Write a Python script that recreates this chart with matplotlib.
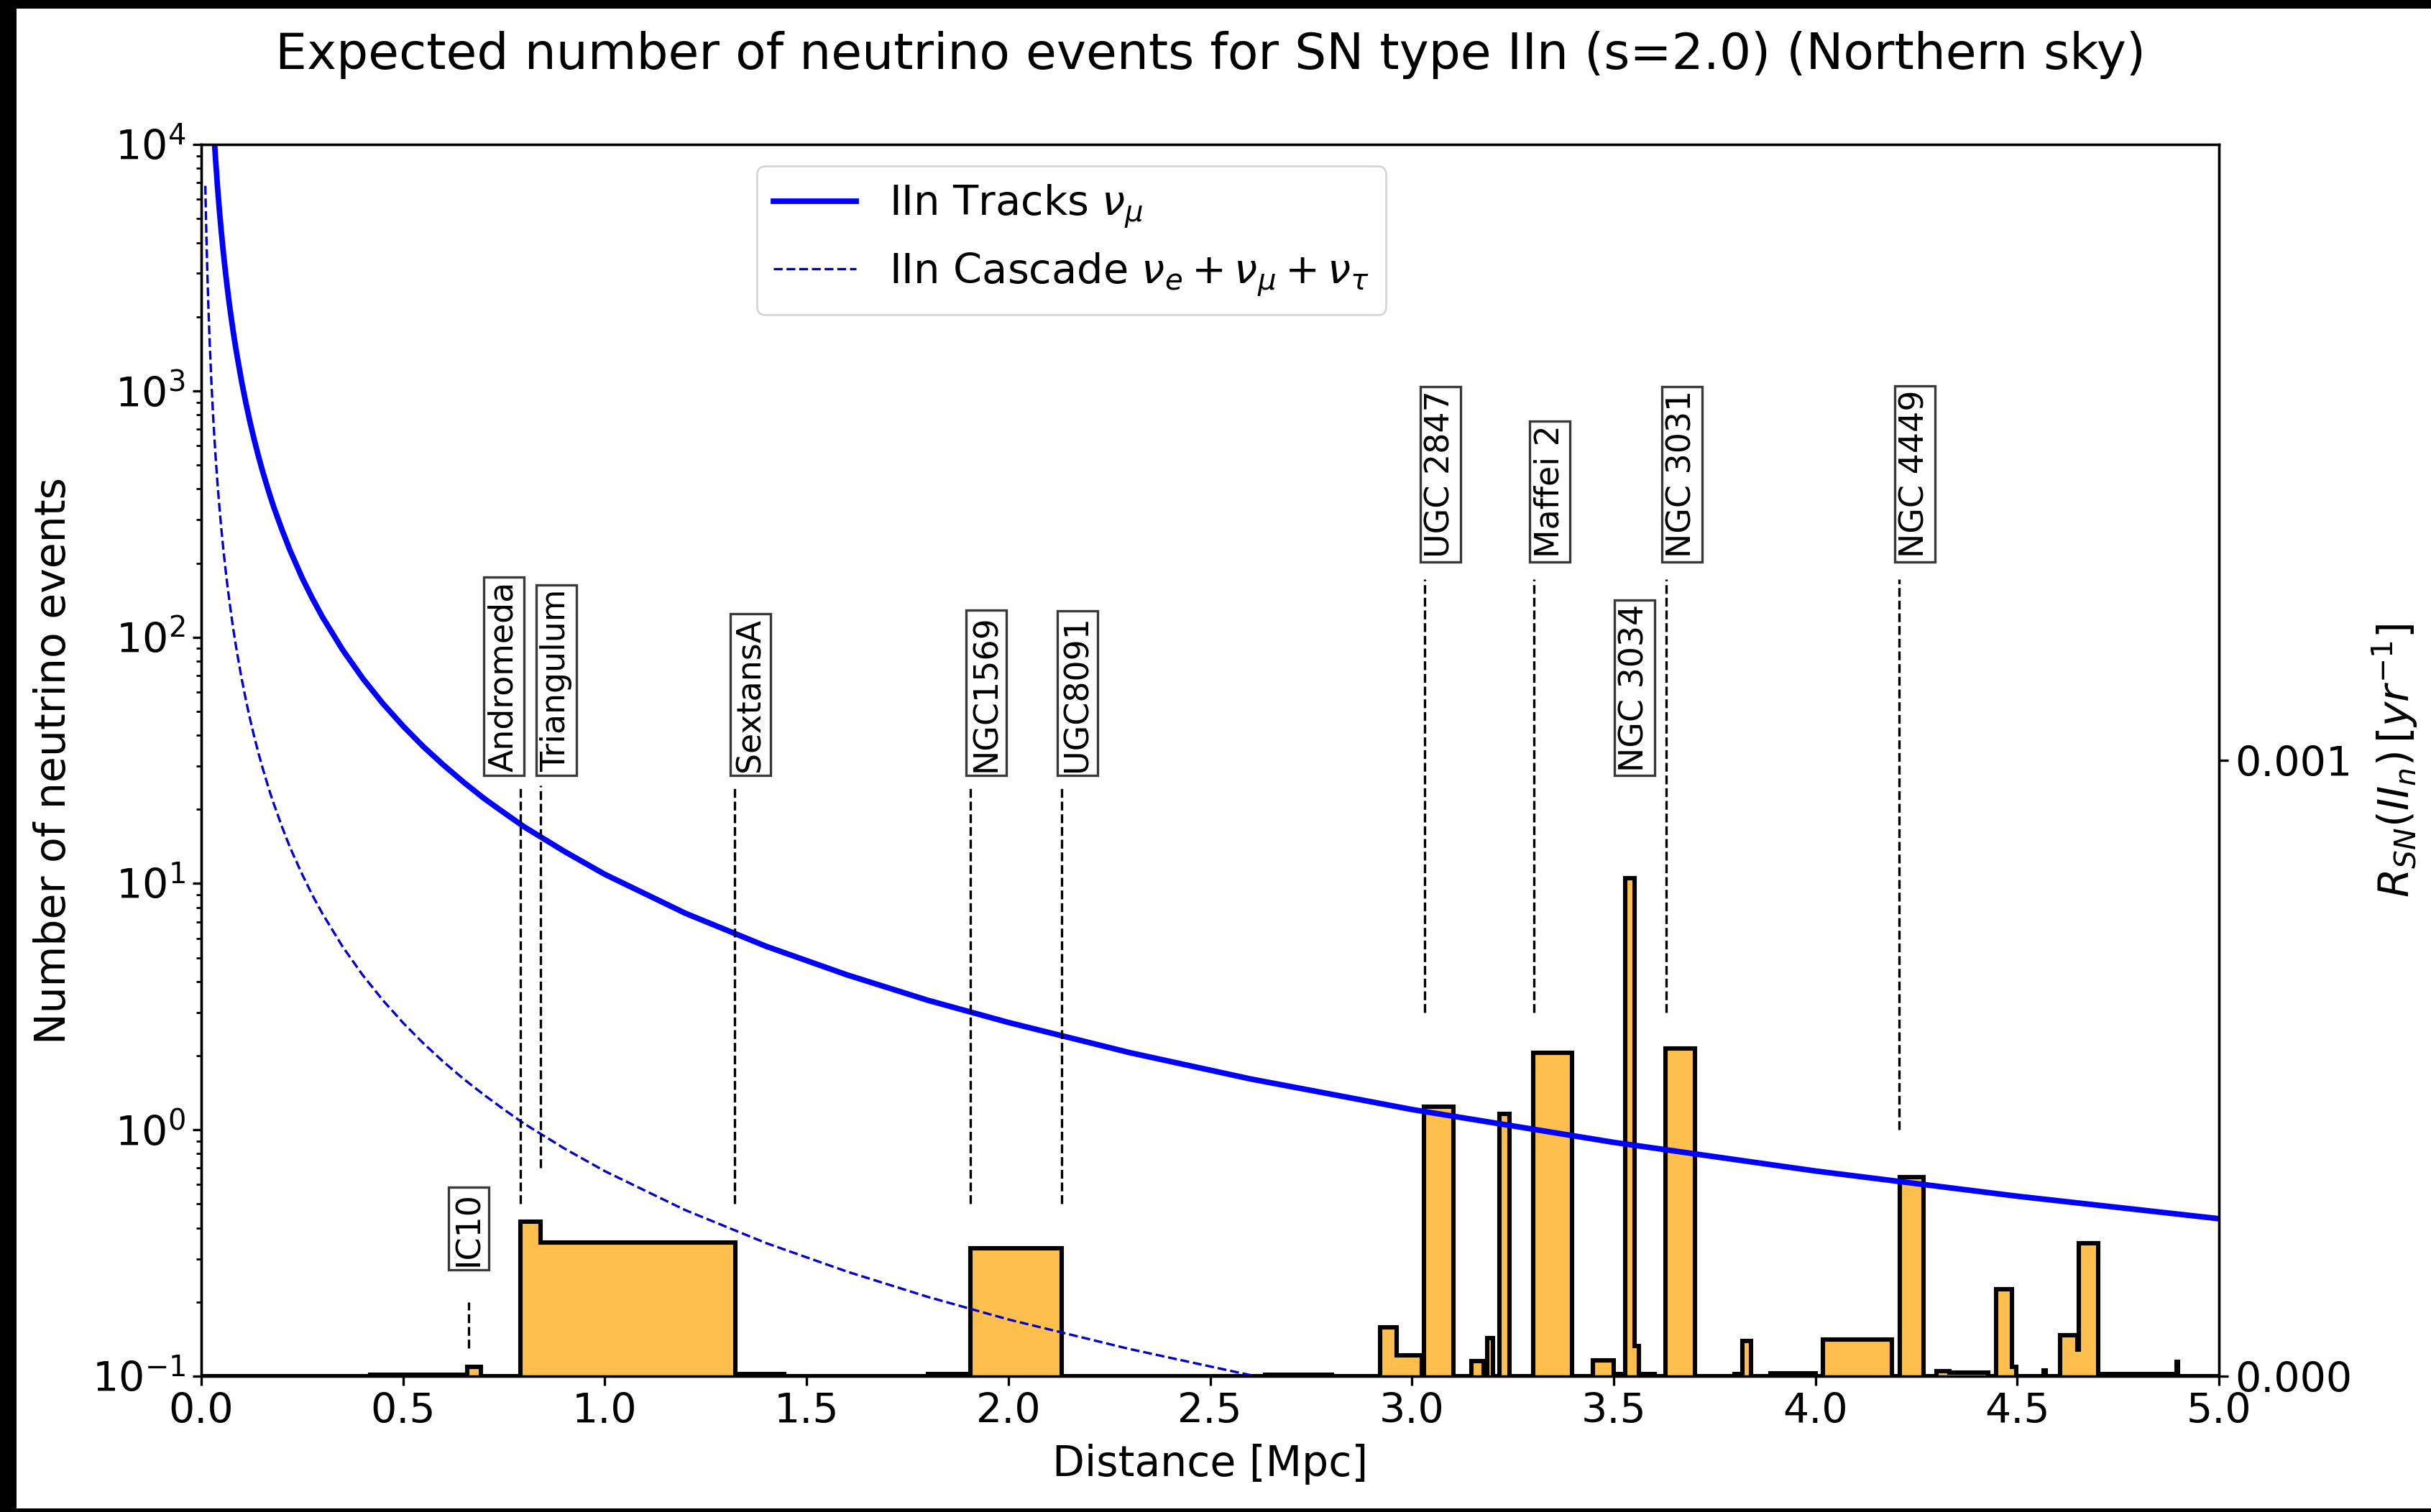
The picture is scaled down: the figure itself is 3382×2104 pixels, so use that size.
import matplotlib
matplotlib.use("Agg")
import matplotlib.pyplot as plt
from matplotlib.patches import Rectangle
from matplotlib.ticker import MultipleLocator, FormatStrFormatter

# expected number of events vs distance
dist_curve = [0.01, 0.0125, 0.015, 0.0175, 0.02, 0.025, 0.03, 0.035, 0.04, 0.045,
              0.05, 0.055, 0.06, 0.065, 0.07, 0.075, 0.08, 0.085, 0.09, 0.10,
              0.11, 0.12, 0.13, 0.14, 0.15, 0.16, 0.17, 0.18, 0.20, 0.22,
              0.25, 0.275, 0.30, 0.35, 0.40, 0.45, 0.50, 0.55, 0.60, 0.65,
              0.70, 0.75, 0.80, 0.90, 1.00, 1.20, 1.40, 1.60, 1.80, 2.00,
              2.30, 2.60, 3.00, 3.50, 4.00, 4.50, 5.00]
tracks = [109000, 69800, 48400, 35600, 27300, 17400, 12100, 8900, 6810, 5380,
          4360, 3600, 3030, 2580, 2220, 1940, 1700, 1510, 1350, 1090,
          901, 757, 645, 556, 484, 426, 377, 336, 273, 225,
          174, 144, 121, 89.0, 68.1, 53.8, 43.6, 36.0, 30.3, 25.8,
          22.2, 19.4, 17.0, 13.5, 10.9, 7.57, 5.56, 4.26, 3.36, 2.73,
          2.06, 1.61, 1.21, 0.890, 0.681, 0.538, 0.436]
cascade = [6800, 4350, 3020, 2220, 1700, 1090, 756, 555, 425, 336,
           272, 225, 189, 161, 139, 121, 106, 94.1, 84.0, 68.0,
           56.2, 47.2, 40.2, 34.7, 30.2, 26.6, 23.5, 21.0, 17.0, 14.0,
           10.9, 8.99, 7.56, 5.55, 4.25, 3.36, 2.72, 2.25, 1.89, 1.61,
           1.39, 1.21, 1.06, 0.840, 0.680, 0.472, 0.347, 0.266, 0.210, 0.170,
           0.129, 0.101, 0.0756, 0.0555, 0.0425, 0.0336, 0.0272]

# SN IIn rate per distance bin [1/yr]
rate_edges = [0.0, 0.419, 0.652, 0.659, 0.693, 0.790, 0.840, 1.324, 1.444, 1.800,
              1.905, 2.132, 2.636, 2.801, 2.921, 2.963, 3.025, 3.029, 3.102, 3.148,
              3.178, 3.187, 3.200, 3.216, 3.242, 3.301, 3.397, 3.449, 3.500, 3.528,
              3.551, 3.562, 3.602, 3.629, 3.702, 3.800, 3.818, 3.841, 3.889, 4.000,
              4.019, 4.189, 4.209, 4.268, 4.300, 4.331, 4.428, 4.447, 4.487, 4.497,
              4.566, 4.571, 4.606, 4.649, 4.653, 4.700, 4.895, 4.899, 5.0]
rates = [0, 2.5e-6, 0, 1.55e-5, 0, 2.51e-4, 2.17e-4, 3.9e-6, 0, 4.0e-6,
         2.08e-4, 0, 2.5e-6, 0, 8.0e-5, 3.4e-5, 0, 4.38e-4, 0, 2.5e-5,
         0, 6.2e-5, 0, 4.26e-4, 0, 5.25e-4, 0, 2.6e-5, 3.5e-6, 8.09e-4,
         4.9e-5, 3.5e-6, 0, 5.32e-4, 0, 3.0e-6, 5.7e-5, 0, 5.0e-6, 0,
         5.96e-5, 0, 3.23e-4, 0, 8.4e-6, 5.6e-6, 0, 1.415e-4, 1.5e-5, 0,
         9.5e-6, 0, 6.7e-5, 4.3e-5, 2.16e-4, 4.0e-6, 2.3e-5, 0]

# nearby galaxies
galaxies = ["IC10", "Andromeda", "Triangulum", "SextansA", "NGC1569", "UGC8091",
            "UGC 2847", "Maffei 2", "NGC 3034", "NGC 3031", "NGC 4449"]
gal_dist = [0.663, 0.790, 0.840, 1.321, 1.905, 2.132,
            3.031, 3.302, 3.512, 3.630, 4.207]
label_y = [0.28, 28.5, 28.5, 28.5, 28.5, 28.5, 210, 210, 28.5, 210, 210]
line_top = [0.2, 25, 25, 25, 25, 25, 172, 172, None, 172, 172]
line_bottom = [0.13, 0.5, 0.7, 0.5, 0.5, 0.5, 3.0, 3.0, None, 3.0, 1.0]
label_ha = ["center", "right", "left", "left", "left", "left",
            "left", "left", "left", "left", "left"]

plt.rcParams["font.family"] = "DejaVu Sans"
plt.rcParams["axes.linewidth"] = 1.2
plt.rcParams["xtick.major.size"] = 4.5
plt.rcParams["ytick.major.size"] = 4.5
plt.rcParams["xtick.major.width"] = 1.2
plt.rcParams["ytick.major.width"] = 1.2
plt.rcParams["ytick.minor.size"] = 2.5
plt.rcParams["ytick.minor.width"] = 1.0

fig = plt.figure(figsize=(16.91, 10.52), dpi=200)
fig.patch.set_facecolor("black")
fig.add_artist(Rectangle((23 / 3382, 5 / 2104), 1 - 23 / 3382, 1 - 17 / 2104,
                         transform=fig.transFigure, facecolor="white",
                         edgecolor="none", zorder=-10))

ax = fig.add_axes([0.0828, 0.0898, 0.830, 0.8146])
ax2 = ax.twinx()
ax.set_zorder(ax2.get_zorder() + 1)
ax.patch.set_visible(False)

# rate histogram on the right axis
ax2.stairs(rates, rate_edges, fill=True, facecolor=(1.0, 0.647, 0.0, 0.7),
           edgecolor="black", linewidth=2.2)
ax2.set_ylim(0, 0.002)
ax2.set_yticks([0, 0.001])
ax2.yaxis.set_major_formatter(FormatStrFormatter("%.3f"))
ax2.tick_params(labelsize=20.5)
ax2.set_ylabel(r"$R_{SN}(II_n)\,[yr^{-1}]$", fontsize=21, labelpad=9)

# neutrino event curves
ax.plot(dist_curve, tracks, color="blue", lw=2.8, label=r"IIn Tracks $\nu_\mu$")
ax.plot(dist_curve, cascade, color="mediumblue", lw=1.2, ls="--",
        label=r"IIn Cascade $\nu_e+\nu_\mu+\nu_\tau$")

for name, d, ly, top, bot, ha in zip(galaxies, gal_dist, label_y, line_top,
                                     line_bottom, label_ha):
    if top is not None:
        ax.vlines(d, bot, top, colors="black", linestyles="dashed", lw=1.2)
    ax.text(d, ly, name, rotation=90, ha=ha, va="bottom", fontsize=16.5,
            bbox=dict(boxstyle="square,pad=0.12", facecolor="white",
                      edgecolor="#3a3a3a", lw=1.2))

ax.set_yscale("log")
ax.set_ylim(0.1, 1e4)
ax.set_xlim(0, 5)
ax.xaxis.set_major_locator(MultipleLocator(0.5))
ax.tick_params(labelsize=20.5)
ax.set_xlabel("Distance [Mpc]", fontsize=21, labelpad=6)
ax.set_ylabel("Number of neutrino events", fontsize=21, labelpad=9)
ax.set_title("Expected number of neutrino events for SN type IIn (s=2.0) (Northern sky)",
             fontsize=25, pad=38)
ax.legend(loc="upper left", bbox_to_anchor=(0.2754, 0.9825), borderaxespad=0,
          fontsize=20.7)

fig.savefig("out.png", dpi=200, facecolor=fig.get_facecolor())
